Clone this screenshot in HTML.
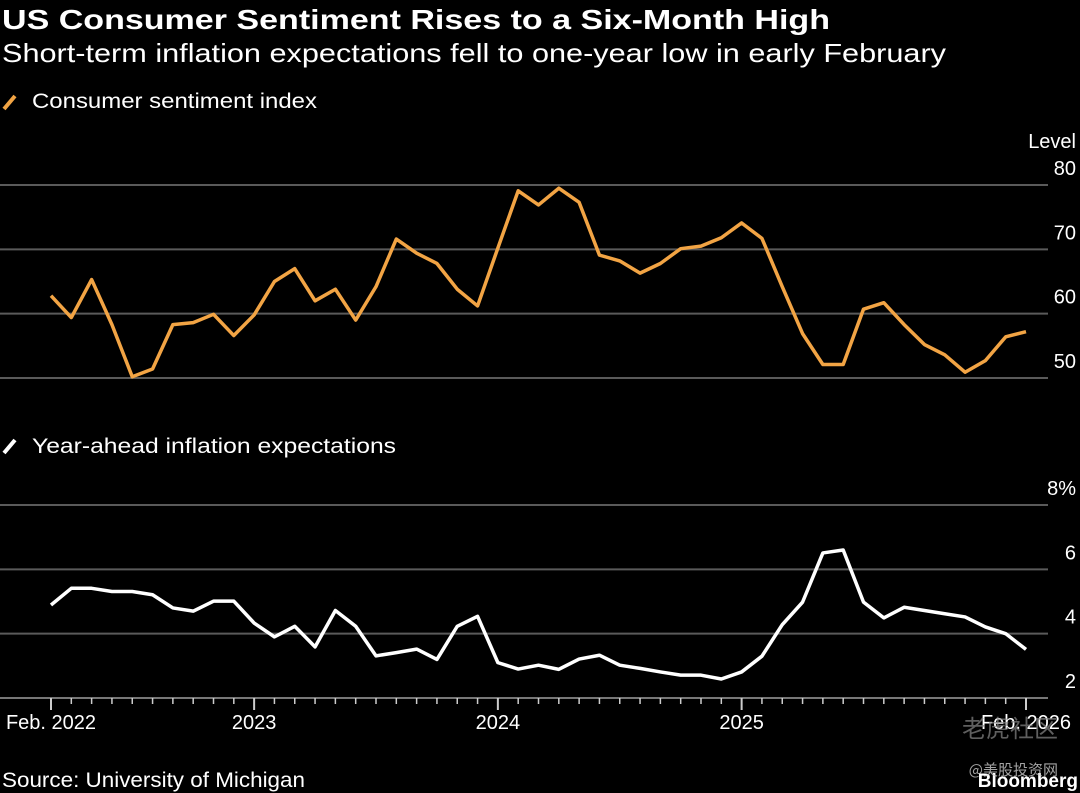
<!DOCTYPE html>
<html><head><meta charset="utf-8"><style>
html,body{margin:0;padding:0;background:#000;}
svg{display:block;font-family:"Liberation Sans","DejaVu Sans",sans-serif;}
</style></head><body>
<svg id="chart" width="1080" height="793" viewBox="0 0 1080 793">
<text x="2" y="29" fill="#fff" font-size="28" font-weight="bold" textLength="828" lengthAdjust="spacingAndGlyphs">US Consumer Sentiment Rises to a Six-Month High</text>
<text x="2" y="62" fill="#fff" font-size="26" textLength="944" lengthAdjust="spacingAndGlyphs">Short-term inflation expectations fell to one-year low in early February</text>
<line x1="4" y1="109" x2="15" y2="96" stroke="#f2a444" stroke-width="4"/>
<text x="32" y="108" fill="#fff" font-size="21" textLength="285" lengthAdjust="spacingAndGlyphs">Consumer sentiment index</text>
<text x="1076" y="148" fill="#fff" font-size="20" text-anchor="end">Level</text>
<line x1="4" y1="453" x2="15" y2="440" stroke="#fff" stroke-width="4"/>
<text x="32" y="453" fill="#fff" font-size="21" textLength="364" lengthAdjust="spacingAndGlyphs">Year-ahead inflation expectations</text>
<g id="topPanel"></g><g id="botPanel"></g><g id="xaxis"></g>
<text x="2" y="787" fill="#fff" font-size="21" textLength="303" lengthAdjust="spacingAndGlyphs">Source: University of Michigan</text>
<text x="1078" y="787" fill="#fff" font-size="19" font-weight="bold" text-anchor="end">Bloomberg</text>
<text x="1058" y="737" fill="#888" fill-opacity="0.7" font-size="24" text-anchor="end" font-family="'Noto Sans CJK SC',sans-serif">老虎社区</text>
<text x="1058" y="775" fill="#ccc" fill-opacity="0.8" font-size="15" text-anchor="end" font-family="'Noto Sans CJK SC',sans-serif">@美股投资网</text>
</svg>
<script>
const sentiment = [62.8,59.4,65.3,58.3,50.2,51.4,58.3,58.6,59.9,56.6,59.8,65.0,67.0,62.0,63.8,59.0,64.2,71.6,69.4,67.8,63.8,61.2,70.2,79.1,76.9,79.5,77.3,69.1,68.2,66.3,67.8,70.1,70.5,71.8,74.1,71.7,64.2,56.9,52.1,52.1,60.7,61.7,58.3,55.2,53.6,50.9,52.7,56.4,57.2];
const inflation = [4.89,5.41,5.41,5.31,5.31,5.21,4.80,4.70,5.01,5.01,4.33,3.90,4.23,3.59,4.72,4.23,3.31,3.41,3.52,3.20,4.23,4.54,3.10,2.90,3.02,2.89,3.21,3.33,3.02,2.92,2.81,2.71,2.71,2.59,2.81,3.30,4.28,4.98,6.51,6.60,4.98,4.49,4.82,4.72,4.62,4.52,4.21,4.00,3.51];
const topTicks = [50,60,70,80];
const botTicks = [2,4,6,8];
const botTickLabels = ["2","4","6","8%"];
const xLabelIdx = [0,10,22,34,48];
const xLabels = ["Feb. 2022","2023","2024","2025","Feb. 2026"];
const NS='http://www.w3.org/2000/svg';
const N = sentiment.length;
const xPos = i => 51 + i*(975/(N-1));
const yTop = v => 378 - (v-50)*(193/30);
const yBot = v => 698 - (v-2)*(193/6);
function mk(tag, attrs, parent){const e=document.createElementNS(NS,tag);for(const k in attrs)e.setAttribute(k,attrs[k]);parent.appendChild(e);return e;}
const topG=document.getElementById('topPanel'), botG=document.getElementById('botPanel'), xa=document.getElementById('xaxis');
topTicks.forEach(v=>{
  const l=mk('line',{x1:0,x2:1048,y1:yTop(v),y2:yTop(v),stroke:'#5a5a5a','stroke-width':2},topG);
  
  
  const t=mk('text',{x:1076,y:yTop(v)-10,fill:'#fff','font-size':20,'text-anchor':'end'},topG);
  t.textContent=v;
  
  
});
botTicks.forEach((v,k)=>{
  const l=mk('line',{x1:0,x2:1048,y1:yBot(v),y2:yBot(v),stroke:v===2?'#777':'#5a5a5a','stroke-width':2},botG);
  
  
  const t=mk('text',{x:1076,y:yBot(v)-10,fill:'#fff','font-size':20,'text-anchor':'end'},botG);
  t.textContent=botTickLabels[k];
  
  
});
const p1=mk('polyline',{points:sentiment.map((v,i)=>xPos(i)+','+yTop(v)).join(' '),fill:'none',stroke:'#f2a444','stroke-width':3.5,'stroke-linejoin':'round'},topG);


const p2=mk('polyline',{points:inflation.map((v,i)=>xPos(i)+','+yBot(v)).join(' '),fill:'none',stroke:'#fff','stroke-width':3.5,'stroke-linejoin':'round'},botG);


for(let i=0;i<N;i++){
  const major=xLabelIdx.includes(i);
  const t=mk('line',{x1:xPos(i),x2:xPos(i),y1:698,y2:major?710:704,stroke:'#ccc','stroke-width':major?2:1.5},xa);
  
  
}
xLabelIdx.forEach((i,k)=>{
  const t=mk('text',{x:xPos(i),y:729,fill:'#fff','font-size':20,'text-anchor':'middle'},xa);
  t.textContent=xLabels[k];
  
  
});
</script>
</body></html>
